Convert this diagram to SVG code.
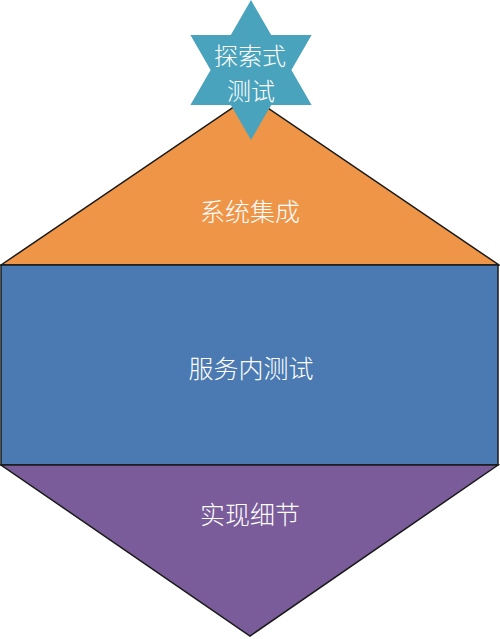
<svg xmlns="http://www.w3.org/2000/svg" width="500" height="639" viewBox="0 0 500 639">
<style>
.shape{stroke:#1a1a1a;stroke-width:1.5;stroke-linejoin:miter}
.lbl{font-family:"Noto Sans CJK SC","Noto Sans CJK JP",sans-serif;font-size:25px;font-weight:300;fill:#ffffff;text-anchor:middle;dominant-baseline:central}
.star{font-size:24px}
</style>
<rect width="500" height="639" fill="#ffffff"/>
<g id="system-integration">
<polygon class="shape" points="1,265 250,96 499,265" fill="#EF9548"/>
<text class="lbl" x="250" y="210">系统集成</text>
</g>
<g id="in-service-test">
<rect class="shape" x="1" y="265" width="497" height="200" fill="#4A7AB1"/>
<text class="lbl" x="251" y="367">服务内测试</text>
</g>
<g id="implementation-detail">
<polygon class="shape" points="1,465 498,465 250,636" fill="#7A5C9A"/>
<text class="lbl" x="250" y="513">实现细节</text>
</g>
<g id="exploratory-test">
<polygon points="251,0 271.2,35 311.6,35 291.4,70 311.6,105 271.2,105 251,140 230.8,105 190.4,105 210.6,70 190.4,35 230.8,35" fill="#4AA3BD"/>
<text class="lbl star" x="250" y="54">探索式</text>
<text class="lbl star" x="251" y="89.5">测试</text>
</g>
<g id="connectors"></g>
</svg>
